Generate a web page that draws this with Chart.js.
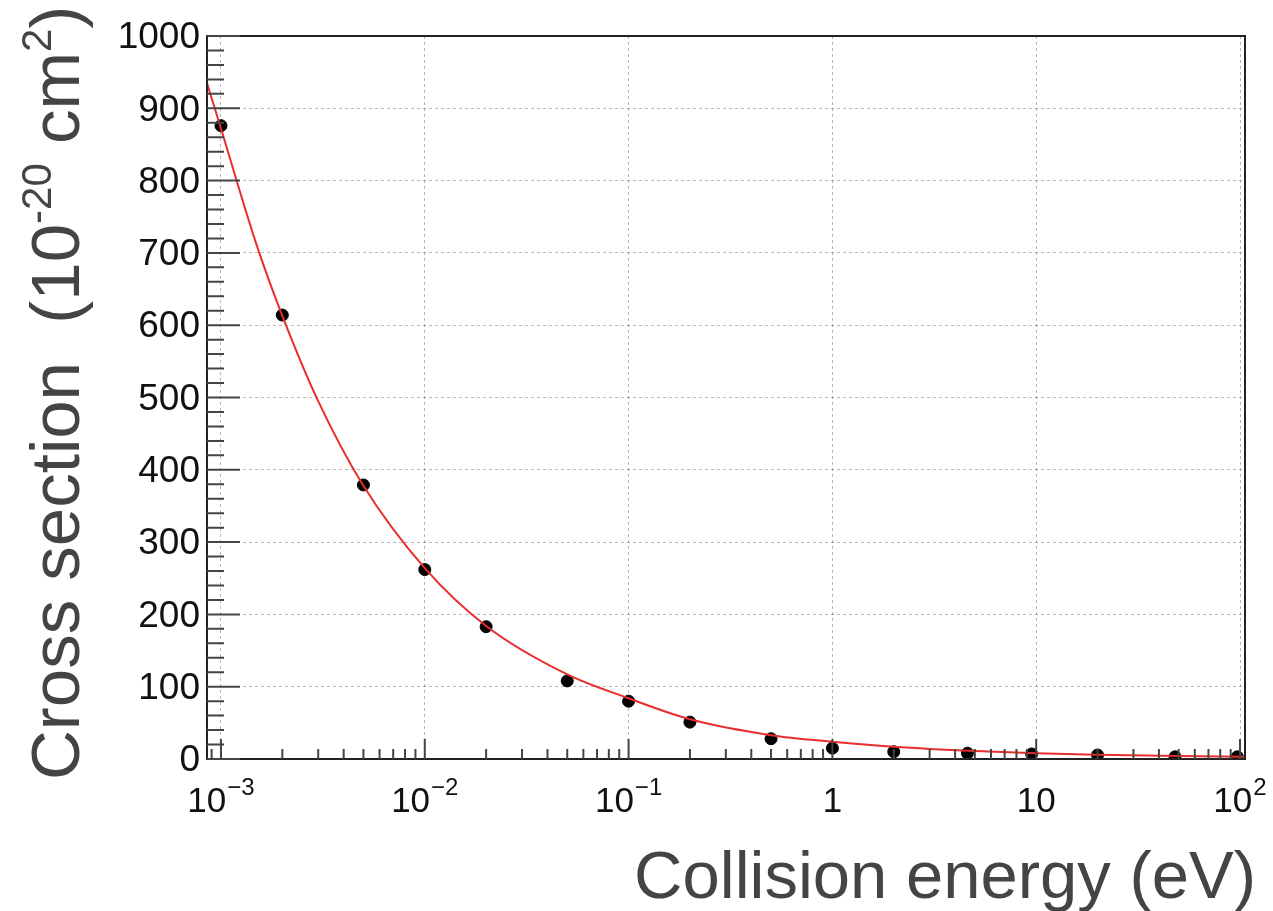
<!DOCTYPE html>
<html>
<head>
<meta charset="utf-8">
<script src="https://cdn.jsdelivr.net/npm/chart.js@4"></script>
<style>
  html, body { margin: 0; padding: 0; background: #fff; }
  canvas { display: block; }
</style>
</head>
<body>
<canvas id="chart" width="1273" height="911"></canvas>
<script>
// measured points
const energies = [0.001, 0.002, 0.005, 0.01, 0.02, 0.05, 0.1, 0.2, 0.5, 1, 2, 4.6, 9.5, 20, 48, 97];
const crossSections = [876, 614, 379, 262, 183, 108, 80, 51, 28, 15, 10, 8, 7, 5.5, 3, 3];

// fit curve
const curveEnergies = [0.000854, 0.001, 0.0015, 0.002, 0.003, 0.005, 0.01, 0.02, 0.05, 0.1, 0.2, 0.5, 1, 2, 5, 10, 20, 50, 105];
const curveValues = [935, 872, 710, 613, 495, 378, 264, 184, 117, 84, 55, 33, 24, 17, 11, 8, 6, 4, 3];

const xMajorTicks = [0.001, 0.01, 0.1, 1, 10, 100];
const xTickBase = ["10", "10", "10", "1", "10", "10"];
const xTickExp = ["\u22123", "\u22122", "\u22121", "", "", "2"];
const yMajorTicks = [0, 100, 200, 300, 400, 500, 600, 700, 800, 900, 1000];

const FONT = '"Liberation Sans", Arial, Helvetica, sans-serif';

const decor = {
  id: "decor",
  afterDraw(chart) {
    const ctx = chart.ctx;
    const a = chart.chartArea;
    const xs = chart.scales.x;
    const ys = chart.scales.y;
    ctx.save();

    // frame
    ctx.strokeStyle = "#222";
    ctx.lineWidth = 2;
    ctx.strokeRect(a.left, a.top, a.right - a.left, a.bottom - a.top);

    // ticks, inside the frame
    ctx.lineWidth = 2;
    ctx.strokeStyle = "#444";
    ctx.beginPath();
    for (let v = 0; v <= 1000; v += 20) {
      const y = ys.getPixelForValue(v);
      const len = v % 100 === 0 ? 33 : 17;
      ctx.moveTo(a.left, y);
      ctx.lineTo(a.left + len, y);
    }
    for (let n = -4; n <= 2; n++) {
      for (let k = 1; k <= 9; k++) {
        const v = k * Math.pow(10, n);
        if (v < xs.min || v > xs.max) continue;
        const x = xs.getPixelForValue(v);
        const len = k === 1 ? 20 : 10;
        ctx.moveTo(x, a.bottom);
        ctx.lineTo(x, a.bottom - len);
      }
    }
    ctx.stroke();

    // y tick labels
    ctx.fillStyle = "#111";
    ctx.font = "37px " + FONT;
    ctx.textAlign = "right";
    ctx.textBaseline = "middle";
    yMajorTicks.forEach((v) => {
      ctx.fillText(String(v), 200, ys.getPixelForValue(v) + 2);
    });

    // x tick labels with exponents
    ctx.textBaseline = "alphabetic";
    ctx.textAlign = "left";
    xMajorTicks.forEach((v, i) => {
      ctx.font = "35px " + FONT;
      const wb = ctx.measureText(xTickBase[i]).width;
      ctx.font = "24px " + FONT;
      const we = xTickExp[i] ? ctx.measureText(xTickExp[i]).width + 1 : 0;
      const x0 = xs.getPixelForValue(v) - (wb + we) / 2;
      ctx.font = "35px " + FONT;
      ctx.fillText(xTickBase[i], x0, 812);
      if (xTickExp[i]) {
        ctx.font = "24px " + FONT;
        ctx.fillText(xTickExp[i], x0 + wb + 1, 795);
      }
    });

    // x title
    ctx.fillStyle = "#444";
    ctx.font = "67px " + FONT;
    ctx.textAlign = "right";
    ctx.fillText("Collision energy (eV)", 1256, 898);

    // y title, rotated, with superscripts
    ctx.translate(79, 780);
    ctx.rotate(-Math.PI / 2);
    ctx.textAlign = "left";
    const parts = [
      ["Cross section  (10", 69, 0],
      ["-20", 42, -28],
      [" cm", 69, 0],
      ["2", 42, -28],
      [")", 69, 0],
    ];
    let px = 0;
    parts.forEach(([t, size, dy]) => {
      ctx.font = size + "px " + FONT;
      ctx.fillText(t, px, dy);
      px += ctx.measureText(t).width;
    });

    ctx.restore();
  },
};

new Chart(document.getElementById("chart"), {
  data: {
    datasets: [
      {
        type: "line",
        label: "fit",
        data: curveEnergies.map((e, i) => ({ x: e, y: curveValues[i] })),
        borderColor: "rgb(232, 45, 45)",
        borderWidth: 2,
        pointRadius: 0,
        cubicInterpolationMode: "monotone",
        fill: false,
      },
      {
        type: "scatter",
        label: "data",
        data: energies.map((e, i) => ({ x: e, y: crossSections[i] })),
        backgroundColor: "#000",
        borderColor: "#000",
        pointRadius: 6,
        showLine: false,
      },
    ],
  },
  options: {
    responsive: false,
    devicePixelRatio: 1,
    animation: false,
    layout: { padding: { left: 207, top: 36, right: 28, bottom: 152 } },
    plugins: { legend: { display: false }, tooltip: { enabled: false } },
    scales: {
      x: {
        type: "logarithmic",
        min: 0.000854,
        max: 105.8,
        afterBuildTicks: (scale) => {
          scale.ticks = xMajorTicks.map((v) => ({ value: v }));
        },
        ticks: { display: false },
        grid: { color: "rgba(0,0,0,0.28)", lineWidth: 1, drawTicks: false },
        border: { display: false, dash: [3, 3] },
      },
      y: {
        type: "linear",
        min: 0,
        max: 1000,
        ticks: { display: false, stepSize: 100 },
        grid: { color: "rgba(0,0,0,0.28)", lineWidth: 1, drawTicks: false },
        border: { display: false, dash: [3, 3] },
      },
    },
  },
  plugins: [decor],
});
</script>
</body>
</html>
